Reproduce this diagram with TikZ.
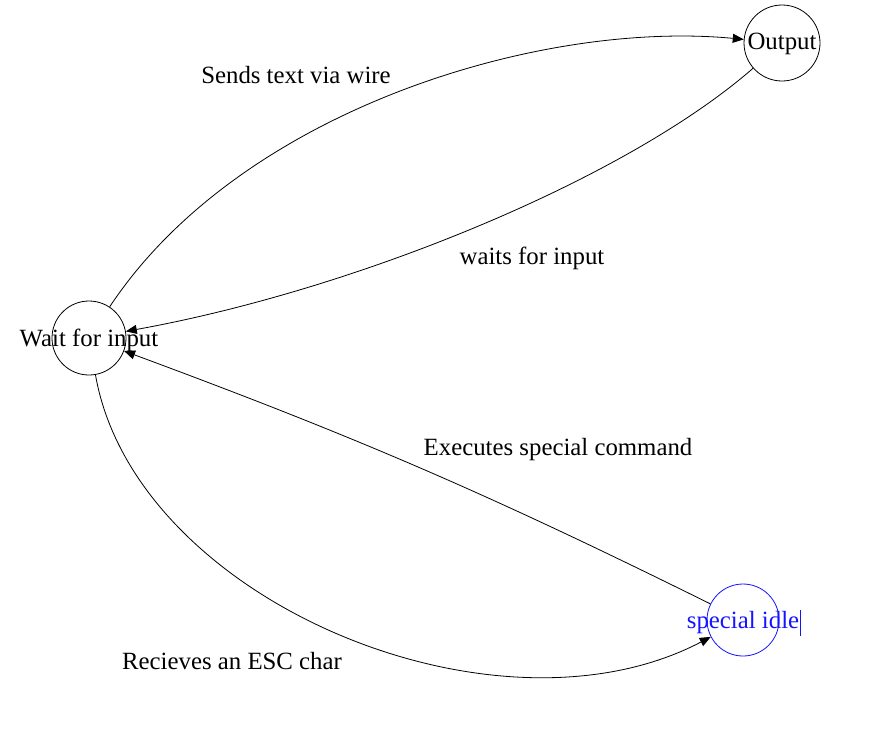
\documentclass[tikz,border=0pt]{standalone}
\usepackage{fontspec}
\setmainfont{Liberation Serif}
\usepackage{tikz}
\usetikzlibrary{arrows.meta,positioning,calc}
\definecolor{negro}{RGB}{0,0,0}
\definecolor{azulesp}{RGB}{20,20,255}
\tikzset{
  estado/.style={draw=negro, circle, inner sep=0pt, line width=0.8pt},
  txt/.style={inner sep=0pt, font=\fontsize{24.8}{28}\selectfont},
  fl/.style={-{Triangle[length=11pt,width=9pt]}, line width=0.8pt, negro},
  et/.style={inner sep=0pt, font=\fontsize{24.8}{28}\selectfont, text=negro},
}

\begin{document}
\begin{tikzpicture}[x=1pt, y=-1pt]
  \useasboundingbox (0,0) rectangle (877,742);
  \node[estado, minimum size=76pt, label={[txt, yshift=-1pt, name=outtxt]center:Output}] (out) at (782,43) {};
  \node[estado, minimum size=74pt, label={[txt, yshift=-2pt, name=waittxt]center:Wait for input}] (wait) at (89,338) {};
  \node[estado, draw=azulesp, minimum size=72pt, label={[txt, yshift=-3pt, text=azulesp, name=esptxt]center:special idle}] (esp) at (743,620) {};
  \draw[azulesp, line width=0.8pt] ([xshift=1pt, yshift=-13pt]esptxt.east) -- ([xshift=1pt, yshift=13pt]esptxt.east);
  \draw[fl] (wait) .. controls (240,110) and (540,20) .. (out);
  \draw[fl] (out) .. controls (625,180) and (355,290) .. (wait);
  \draw[fl] (esp) to[bend right=3] (wait);
  \draw[fl] (wait) .. controls (135,600) and (495,750) .. (esp);
  \node[et] (lsend) at (296,75) {Sends text via wire};
  \node[et] (lwait) at (532,258) {waits for input};
  \node[et] (lexec) at (558,450) {Executes special command};
  \node[et] (lesc) at (232,661) {Recieves an ESC char};
\end{tikzpicture}
\end{document}
